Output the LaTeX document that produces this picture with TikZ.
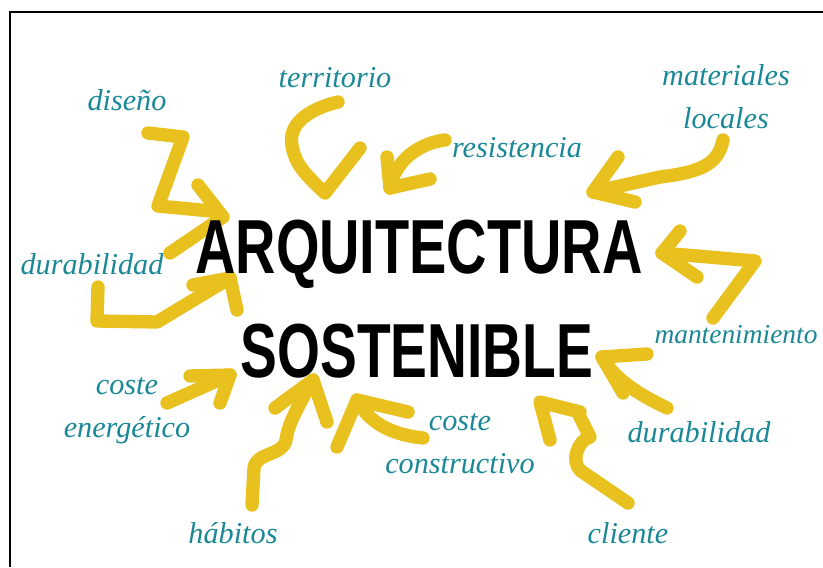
\documentclass[tikz,border=0pt]{standalone}
\usepackage{fontspec}
\setmainfont{Liberation Serif}
\newfontfamily\titlefont{Liberation Sans}
\definecolor{marker}{RGB}{233,193,31}
\definecolor{tealtxt}{RGB}{26,136,150}
\tikzset{
  stroke/.style={draw=marker, line width=9.5pt, line cap=round, line join=round},
  label/.style={text=tealtxt, font=\fontsize{21.5}{30}\selectfont\itshape, align=center, anchor=base, inner sep=0pt},
  titletext/.style={text=black, font=\fontsize{54.5}{60}\selectfont\titlefont\bfseries, anchor=base, inner sep=0pt}
}
\begin{document}
\begin{tikzpicture}[x=0.025cm, y=-0.025cm]
        \useasboundingbox (0,0) rectangle (823,567);

        % Cornice
        \draw[line width=1.4pt] (10,567) -- (10,12) -- (823,12);

        % Punte delle frecce
        \coordinate (tDis) at (223,217);
        \coordinate (tTer) at (325,193);
        \coordinate (tRes) at (390,188);
        \coordinate (tMat) at (593,192);
        \coordinate (tMan) at (662,253);
        \coordinate (tDurL) at (230,278);
        \coordinate (tEne) at (230,375);
        \coordinate (tHab) at (313,380);
        \coordinate (tCon) at (357,400);
        \coordinate (tDurR) at (602,357);
        \coordinate (tCli) at (540,402);

        % Frecce gialle
        \draw[stroke] (148,133) -- (183,137) -- (158,206) -- (211,211); % diseno
        \draw[stroke] (198,185) -- (tDis) -- (170,253);
        \draw[stroke] (338,102) .. controls (305,110) and (288,126) .. (292,146) .. controls (295,162) and (302,172) .. (tTer) -- (360,148); % territorio
        \draw[stroke] (445,140) .. controls (420,143) and (395,160) .. (tRes); % resistencia
        \draw[stroke] (387,157) -- (tRes) -- (430,179);
        \draw[stroke] (723,140) .. controls (718,165) and (700,172) .. (660,177) -- (tMat); % materiales locales
        \draw[stroke] (618,157) -- (tMat) -- (635,202);
        \draw[stroke] (713,318) -- (755,261) -- (tMan); % mantenimiento
        \draw[stroke] (680,231) -- (tMan) -- (697,277);
        \draw[stroke] (98,287) -- (97,321) -- (157,322) -- (tDurL); % durabilidad
        \draw[stroke] (193,285) -- (tDurL) -- (237,310);
        \draw[stroke] (167,403) -- (tEne); % coste energetico
        \draw[stroke] (190,376) -- (tEne) -- (220,403);
        \draw[stroke] (252,505) -- (254,468) .. controls (256,452) and (283,456) .. (286,440) .. controls (288,428) and (290,420) .. (tHab); % habitos
        \draw[stroke] (275,408) -- (tHab) -- (327,422);
        \draw[stroke] (423,438) .. controls (395,435) and (370,425) .. (tCon); % coste constructivo
        \draw[stroke] (337,447) -- (tCon) -- (408,412);
        \draw[stroke] (667,408) .. controls (640,395) and (615,380) .. (tDurR); % durabilidad
        \draw[stroke] (647,354) -- (tDurR) -- (623,393);
        \draw[stroke] (628,503) -- (581,471) .. controls (570,462) and (578,440) .. (590,437) -- (579,415); % cliente
        \draw[stroke] (580,412) -- (tCli) -- (550,440);

        % Titolo
        \node[titletext] (arq) at (419,273) {\scalebox{0.73}[1]{ARQUITECTURA}};
        \node[titletext] (sos) at (417,377) {\scalebox{0.72}[1]{SOSTENIBLE}};

        % Etichette (le etichette su due righe sono ancorate all'ultima riga)
        \node[label] (dis) at (127,110) {diseño};
        \node[label] (ter) at (335,87) {territorio};
        \node[label] (res) at (517,157) {resistencia};
        \node[label] (mat) at (726,128) {materiales\\locales};
        \node[label] (durl) at (92,274) {durabilidad};
        \node[label, font=\fontsize{19.5}{30}\selectfont\itshape] (man) at (736,343) {mantenimiento};
        \node[label] (ene) at (127,437) {coste\\energético};
        \node[label] (hab) at (233,543) {hábitos};
        \node[label] (con) at (460,473) {coste\\constructivo};
        \node[label] (durr) at (699,442) {durabilidad};
        \node[label] (cli) at (628,543) {cliente};
    \end{tikzpicture}
\end{document}
